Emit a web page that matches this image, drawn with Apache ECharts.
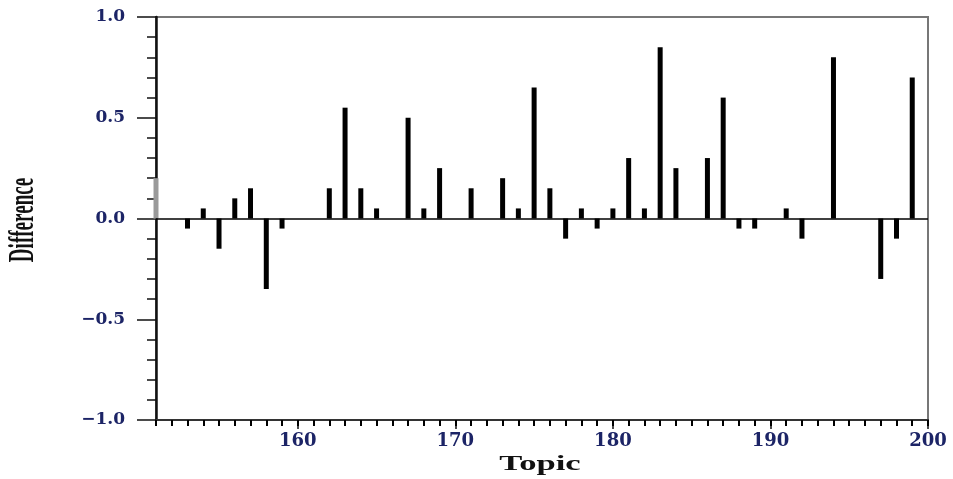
<!DOCTYPE html>
<html>
<head>
<meta charset="utf-8">
<script src="https://cdn.jsdelivr.net/npm/echarts@6/dist/echarts.min.js"></script>
<style>
  html, body { margin: 0; padding: 0; background: #fff; }
  #chart { width: 953px; height: 479px; }
</style>
</head>
<body>
<div id="chart"></div>
<script>
// topics that have a bar, and the difference for each
const topics = [151, 153, 154, 155, 156, 157, 158, 159, 162, 163, 164, 165, 167, 168, 169, 171,
  173, 174, 175, 176, 177, 178, 179, 180, 181, 182, 183, 184, 186, 187, 188, 189, 191, 192, 194, 197, 198, 199];
const diffs = [0.2, -0.05, 0.05, -0.15, 0.1, 0.15, -0.35, -0.05, 0.15, 0.55, 0.15, 0.05, 0.5, 0.05, 0.25, 0.15,
  0.2, 0.05, 0.65, 0.15, -0.1, 0.05, -0.05, 0.05, 0.3, 0.05, 0.85, 0.25, 0.3, 0.6, -0.05, -0.05, 0.05, -0.1, 0.8, -0.3, -0.1, 0.7];
const xTickLabels = [160, 170, 180, 190, 200];

const labelColor = '#1c2466';
const gridTop = 17;
const gridBottom = 59;
const gridHeight = 479 - gridTop - gridBottom;

const myChart = echarts.init(document.getElementById('chart'));
myChart.setOption({
  animation: false,
  grid: {
    left: 156,
    right: 25,
    top: gridTop,
    bottom: gridBottom,
    show: true,
    borderColor: '#777',
    borderWidth: 2
  },
  xAxis: [{
    // major ticks + labels
    type: 'value',
    position: 'bottom',
    min: 151,
    max: 200,
    axisLine: { onZero: false, lineStyle: { color: '#333', width: 2 } },
    axisTick: { customValues: xTickLabels, length: 9, lineStyle: { color: '#111', width: 1.5 } },
    axisLabel: {
      customValues: xTickLabels,
      margin: 12,
      color: labelColor,
      fontFamily: 'DejaVu Serif',
      fontWeight: 'bold',
      fontSize: 18
    },
    splitLine: { show: false }
  }, {
    // minor ticks, one per topic: a top axis pushed down onto the bottom edge
    type: 'value',
    position: 'top',
    offset: -gridHeight,
    min: 151,
    max: 200,
    interval: 1,
    axisLine: { show: true, onZero: false, lineStyle: { color: '#333', width: 2 } },
    axisTick: { show: true, inside: true, length: 6, lineStyle: { color: '#000', width: 2 } },
    axisLabel: { show: true, fontSize: 6, color: 'rgba(255,255,255,0)', hideOverlap: false },
    splitLine: { show: false }
  }],
  yAxis: {
    type: 'value',
    min: -1,
    max: 1,
    interval: 0.5,
    axisLine: { lineStyle: { color: '#111', width: 2.5 } },
    axisTick: { length: 19, lineStyle: { color: '#111', width: 1.5 } },
    minorTick: { show: true, splitNumber: 5, length: 9, lineStyle: { color: '#111', width: 1.5 } },
    axisLabel: {
      margin: 31,
      color: labelColor,
      fontFamily: 'DejaVu Serif',
      fontWeight: 'bold',
      fontSize: 17,
      formatter: v => (v < 0 ? '\u2212' : '') + Math.abs(v).toFixed(1)
    },
    splitLine: { show: false }
  },
  graphic: [{
    type: 'text',
    x: 540,
    y: 465,
    scaleX: 1.73,
    style: {
      text: 'Topic',
      font: 'bold 20px "Liberation Serif"',
      fill: '#111',
      align: 'center',
      verticalAlign: 'middle'
    }
  }, {
    type: 'text',
    x: 24,
    y: 220,
    rotation: Math.PI / 2,
    scaleX: 0.53,
    style: {
      text: 'Difference',
      font: 'bold 36px "Liberation Serif"',
      fill: '#111',
      align: 'center',
      verticalAlign: 'middle'
    }
  }],
  series: [{
    type: 'bar',
    xAxisIndex: 0,
    barWidth: 5,
    itemStyle: {
      // the first bar sits on the axis and looks washed out in the original
      color: p => (p.dataIndex === 0 ? '#9a9a9a' : '#000')
    },
    data: topics.map((t, i) => [t, diffs[i]]),
    markLine: {
      silent: true,
      symbol: 'none',
      label: { show: false },
      lineStyle: { color: '#000', width: 1.5, type: 'solid' },
      data: [{ yAxis: 0 }]
    }
  }]
});
</script>
</body>
</html>
